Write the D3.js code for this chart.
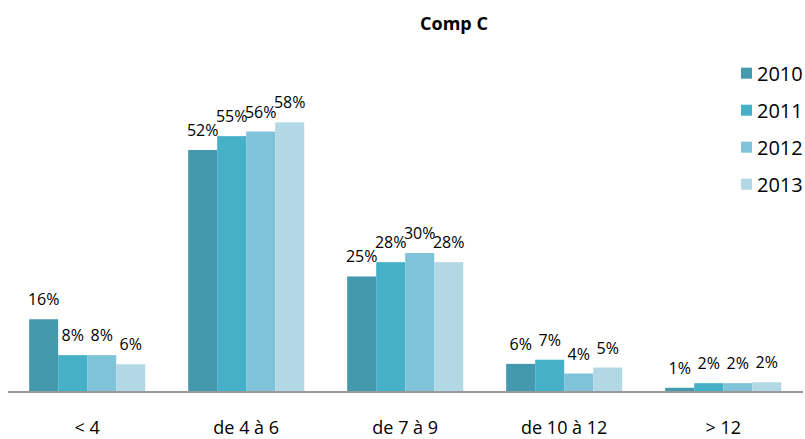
<!DOCTYPE html>
<html><head><meta charset="utf-8">
<script src="https://cdn.jsdelivr.net/npm/d3@7"></script>
<style>body{margin:0;background:#fff}svg{display:block}text{font-family:"Open Sans",sans-serif;fill:#000}</style>
</head><body><svg id="c" width="805" height="439"></svg>
<script>
const categories = ["< 4", "de 4 à 6", "de 7 à 9", "de 10 à 12", "> 12"];
const seriesNames = ["2010", "2011", "2012", "2013"];
const v2010 = [15.6, 52.4, 24.9, 5.9, 0.7];
const v2011 = [7.8, 55.4, 28.0, 6.8, 1.7];
const v2012 = [7.8, 56.4, 30.0, 3.8, 1.7];
const v2013 = [5.8, 58.4, 28.0, 5.1, 1.9];
const colors = ["#4599ae", "#45b0c8", "#7ec3d8", "#b2d7e5"];
const title = "Comp C";

const seriesValues = [v2010, v2011, v2012, v2013];
const svg = d3.select("#c");
const x = d3.scaleBand().domain(categories).range([7.7, 802.7]).paddingInner(0.27).paddingOuter(0.135);
const xs = d3.scaleBand().domain(seriesNames).range([0, x.bandwidth()]);
const y = d3.scaleLinear().domain([0, 70]).range([391, 69]);

const g = svg.append("g");
categories.forEach((c, ci) => {
  seriesNames.forEach((s, si) => {
    const v = seriesValues[si][ci];
    g.append("rect").attr("x", x(c) + xs(s)).attr("y", y(v)).attr("width", xs.bandwidth()).attr("height", y(0) - y(v)).attr("fill", colors[si]);
    g.append("text").attr("x", x(c) + xs(s) + xs.bandwidth() / 2).attr("y", y(v) - 14)
      .attr("text-anchor", "middle").attr("font-size", 16).text(Math.round(v) + "%");
  });
});

svg.append("line").attr("x1", 8).attr("x2", 803).attr("y1", y(0) + 1).attr("y2", y(0) + 1).attr("stroke", "#9a9a9a").attr("stroke-width", 2);

const xAxis = svg.append("g").attr("transform", `translate(0,${y(0)})`).call(d3.axisBottom(x).tickSize(0).tickPadding(0));
xAxis.select(".domain").remove();
xAxis.selectAll("text").attr("font-size", 18).attr("dy", null).attr("y", 43).style("font-family", '"Open Sans",sans-serif').attr("fill", "#000");

svg.append("text").attr("x", 454).attr("y", 30).attr("text-anchor", "middle").attr("font-size", 18).attr("font-weight", "bold").text(title);

const leg = svg.append("g");
seriesNames.forEach((s, i) => {
  const yy = 67.7 + i * 37;
  leg.append("rect").attr("x", 741).attr("y", yy).attr("width", 11).attr("height", 11).attr("fill", colors[i]);
  leg.append("text").attr("x", 757).attr("y", yy + 13).attr("font-size", 20).text(s);
});
</script></body></html>
